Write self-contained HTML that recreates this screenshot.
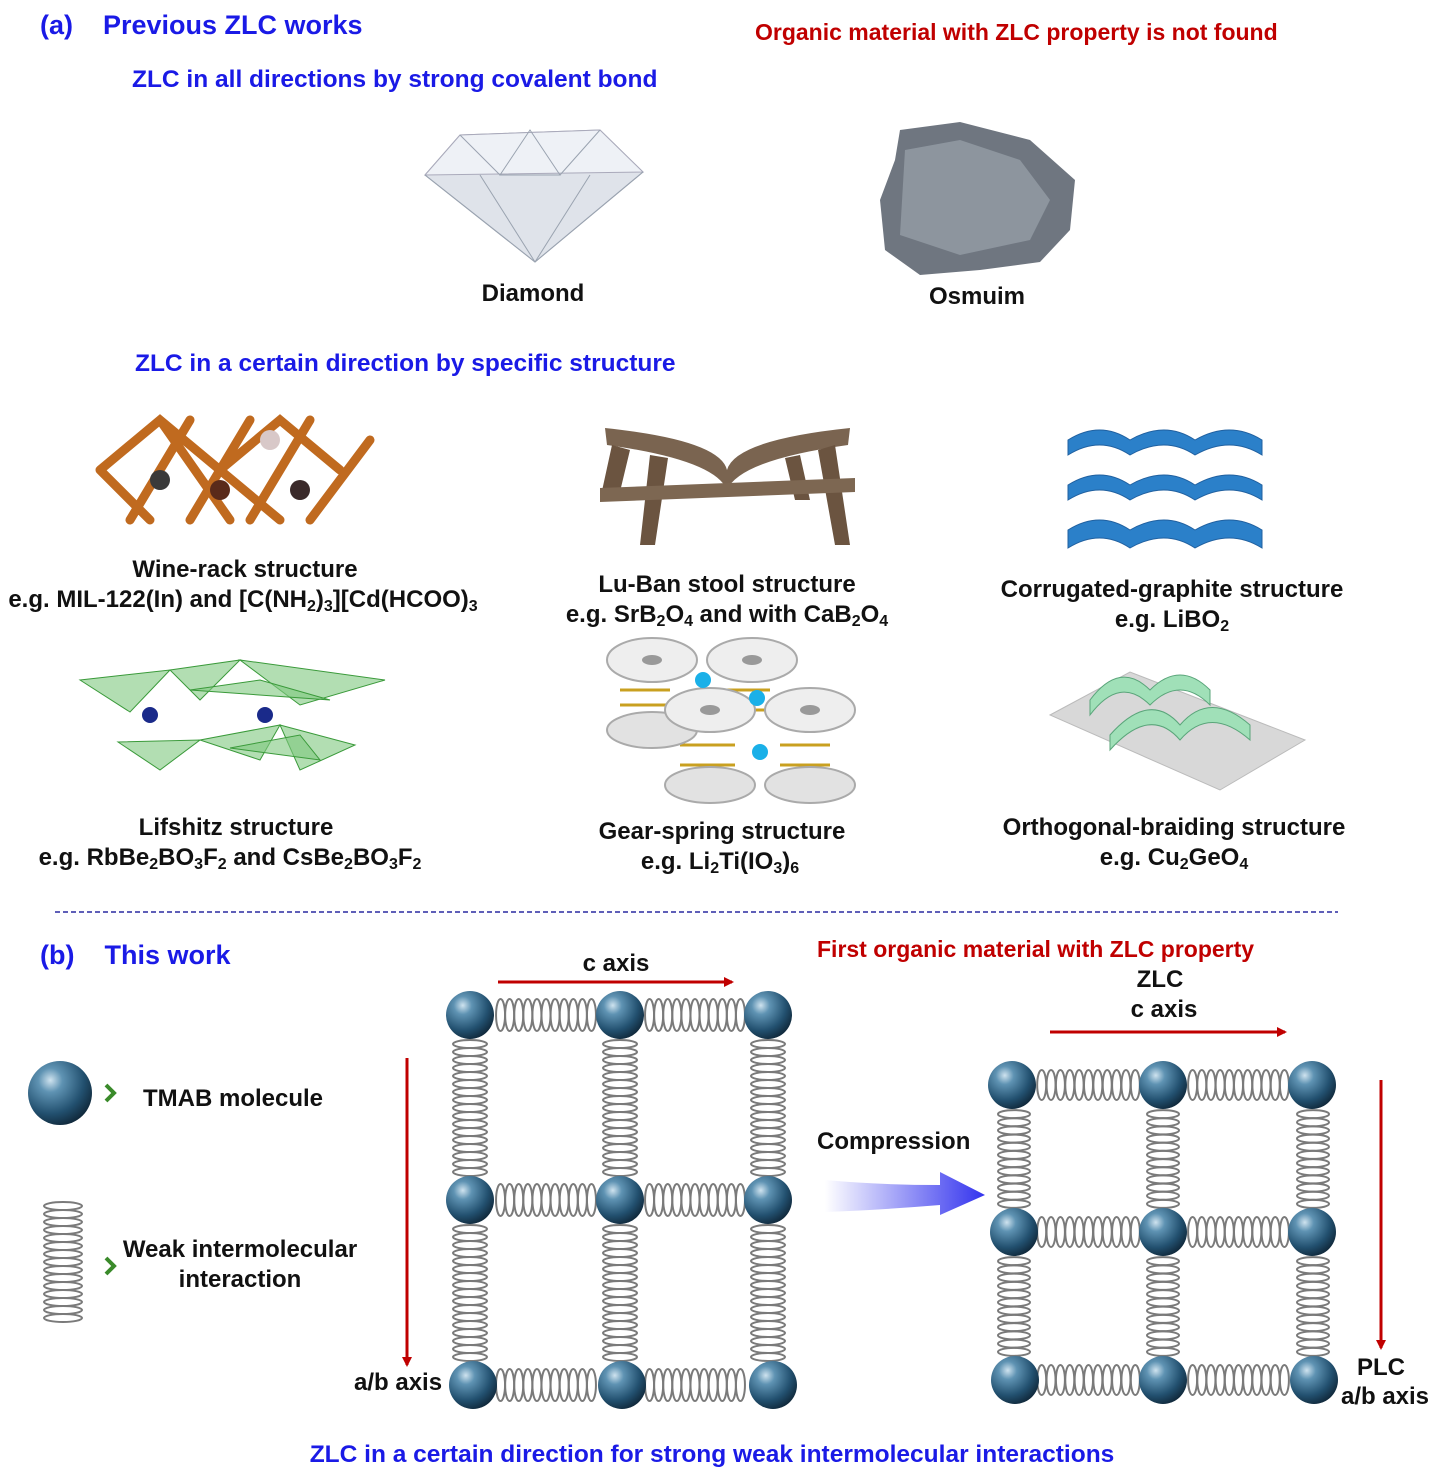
<!DOCTYPE html>
<html><head><meta charset="utf-8"><style>
html,body{margin:0;padding:0;background:#fff;}
#w{position:relative;width:1435px;height:1476px;overflow:hidden;font-family:"Liberation Sans",Arial,sans-serif;font-weight:bold;}
.t{position:absolute;white-space:nowrap;line-height:1;}
.b{color:#1a1ae6;font-size:24.5px;}
.h{color:#1a1ae6;font-size:27px;}
.r{color:#c00000;font-size:23px;}
.k{color:#111;font-size:24px;}
.c{transform:translateX(-50%);text-align:center;}
sub{font-size:16px;vertical-align:-4px;line-height:0;}
svg{position:absolute;left:0;top:0;}
</style></head><body><div id="w">
<svg id="s" width="1435" height="1476" viewBox="0 0 1435 1476">
<defs>
<radialGradient id="sph" cx="0.35" cy="0.3" r="0.75">
<stop offset="0" stop-color="#cfe3ef"/><stop offset="0.25" stop-color="#5f93b3"/><stop offset="0.7" stop-color="#22506f"/><stop offset="1" stop-color="#10283a"/></radialGradient>
<linearGradient id="cmp" x1="0" x2="1"><stop offset="0" stop-color="#fff"/><stop offset="1" stop-color="#3333ee"/></linearGradient>
<marker id="ar" markerWidth="10" markerHeight="10" refX="8" refY="5" orient="auto" markerUnits="userSpaceOnUse"><path d="M0,0 L10,5 L0,10 z" fill="#c00000"/></marker>
</defs>
<!-- diamond -->
<polygon points="425,175 460,135 600,130 643,172 535,262" fill="#dfe3ea" stroke="#9aa3b0"/>
<polygon points="460,135 600,130 643,172 425,175" fill="#eef1f6" stroke="#aab"/>
<path d="M425,175 L535,262 L643,172 M480,175 L535,262 L590,175 M460,135 L500,175 M600,130 L560,175 M530,130 L500,175 L560,175 Z" stroke="#9aa3b0" fill="none"/>
<!-- osmium -->
<path d="M900,130 L960,122 L1030,140 L1075,180 L1070,230 L1040,262 L980,270 L920,275 L885,250 L880,200 L895,160 Z" fill="#6f7680"/>
<path d="M905,150 L960,140 L1020,160 L1050,200 L1030,240 L960,255 L900,235 Z" fill="#9aa2ab" opacity="0.7"/>
<!-- wine rack -->
<g stroke="#c06a1f" stroke-width="9" stroke-linecap="round">
<path d="M100,470 L160,420 L220,470 L280,420 L340,470 M130,520 L190,420 M190,520 L250,420 M250,520 L310,420 M310,520 L370,440 M100,470 L150,520 M160,420 L230,520 M220,470 L280,520" fill="none"/>
</g>
<circle cx="160" cy="480" r="10" fill="#3a3a3a"/><circle cx="220" cy="490" r="10" fill="#5a2a1a"/><circle cx="300" cy="490" r="10" fill="#3a2a2a"/><circle cx="270" cy="440" r="10" fill="#d8c8c8"/>
<!-- stool -->
<path d="M605,428 Q720,440 727,470 Q735,440 850,428 L848,445 Q740,460 727,490 Q715,460 607,445 Z" fill="#7a6450"/>
<path d="M612,445 L600,500 L618,500 L630,450 Z M835,445 L850,545 L835,545 L818,450 Z M650,455 L640,545 L655,545 L668,458 Z M800,455 L810,500 L795,500 L785,458 Z" fill="#6b5440"/>
<path d="M600,488 L855,478 L855,492 L600,502 Z" fill="#7d6752"/>
<!-- corrugated -->
<g fill="#2b80c9" stroke="#2060a0">
<path d="M1068,440 Q1100,420 1130,440 Q1165,420 1195,440 Q1230,420 1262,440 L1262,455 Q1230,435 1195,455 Q1165,435 1130,455 Q1100,435 1068,455 Z"/>
<path d="M1068,485 Q1100,465 1130,485 Q1165,465 1195,485 Q1230,465 1262,485 L1262,500 Q1230,480 1195,500 Q1165,480 1130,500 Q1100,480 1068,500 Z"/>
<path d="M1068,530 Q1100,510 1130,530 Q1165,510 1195,530 Q1230,510 1262,530 L1262,548 Q1230,528 1195,548 Q1165,528 1130,548 Q1100,528 1068,548 Z"/>
</g>
<!-- lifshitz -->
<g fill="#7fc87f" fill-opacity="0.6" stroke="#3a9a3a">
<polygon points="80,680 170,670 130,712"/><polygon points="170,670 240,660 200,700"/><polygon points="240,660 385,680 300,705"/><polygon points="190,690 260,680 330,700"/>
<polygon points="118,742 200,740 160,770"/><polygon points="200,740 280,725 260,760"/><polygon points="280,725 355,745 300,770"/><polygon points="230,748 300,735 320,760"/>
</g>
<circle cx="150" cy="715" r="8" fill="#1a2a8a"/><circle cx="265" cy="715" r="8" fill="#1a2a8a"/>
<!-- gears -->
<g stroke="#aaa" stroke-width="2">
<g fill="none" stroke="#c9a020" stroke-width="3"><path d="M620,690 h50 M620,705 h50 M620,720 h50 M720,690 h50 M720,710 h50 M680,745 h55 M680,765 h55 M780,745 h50 M780,765 h50"/></g>
<ellipse cx="652" cy="660" rx="45" ry="22" fill="#eee"/><ellipse cx="752" cy="660" rx="45" ry="22" fill="#eee"/>
<ellipse cx="652" cy="730" rx="45" ry="18" fill="#e2e2e2"/>
<ellipse cx="710" cy="710" rx="45" ry="22" fill="#eee"/><ellipse cx="810" cy="710" rx="45" ry="22" fill="#eee"/>
<ellipse cx="710" cy="785" rx="45" ry="18" fill="#e2e2e2"/><ellipse cx="810" cy="785" rx="45" ry="18" fill="#e2e2e2"/>
</g>
<ellipse cx="652" cy="660" rx="10" ry="5" fill="#999"/><ellipse cx="752" cy="660" rx="10" ry="5" fill="#999"/><ellipse cx="710" cy="710" rx="10" ry="5" fill="#999"/><ellipse cx="810" cy="710" rx="10" ry="5" fill="#999"/>
<circle cx="703" cy="680" r="8" fill="#1ab0e8"/><circle cx="757" cy="698" r="8" fill="#1ab0e8"/><circle cx="760" cy="752" r="8" fill="#1ab0e8"/>
<!-- orthogonal -->
<polygon points="1050,715 1130,672 1305,740 1220,790" fill="#d8d8d8" stroke="#bbb"/>
<g fill="#a0e0b8" stroke="#5aa57a">
<path d="M1090,700 Q1120,660 1150,690 Q1180,660 1210,690 L1210,705 Q1180,675 1150,705 Q1120,675 1090,715 Z"/>
<path d="M1110,735 Q1150,690 1180,725 Q1210,690 1250,725 L1250,740 Q1210,705 1180,740 Q1150,705 1110,750 Z"/>
</g>
<!-- dashed -->
<line x1="55" y1="912" x2="1338" y2="912" stroke="#2a2aa0" stroke-width="1.5" stroke-dasharray="5,3"/>
<!-- legend -->
<circle cx="60" cy="1093" r="32" fill="url(#sph)"/>
<path d="M106,1085 L114,1093 L106,1101" stroke="#3a8a2a" stroke-width="4" fill="none"/>
<path d="M106,1258 L114,1266 L106,1274" stroke="#3a8a2a" stroke-width="4" fill="none"/>
<g id="springs"></g>
<g fill="url(#sph)">
<circle cx="470" cy="1015" r="24"/><circle cx="620" cy="1015" r="24"/><circle cx="768" cy="1015" r="24"/>
<circle cx="470" cy="1200" r="24"/><circle cx="620" cy="1200" r="24"/><circle cx="768" cy="1200" r="24"/>
<circle cx="473" cy="1385" r="24"/><circle cx="622" cy="1385" r="24"/><circle cx="773" cy="1385" r="24"/>
<circle cx="1012" cy="1085" r="24"/><circle cx="1163" cy="1085" r="24"/><circle cx="1312" cy="1085" r="24"/>
<circle cx="1014" cy="1232" r="24"/><circle cx="1163" cy="1232" r="24"/><circle cx="1312" cy="1232" r="24"/>
<circle cx="1015" cy="1380" r="24"/><circle cx="1163" cy="1380" r="24"/><circle cx="1314" cy="1380" r="24"/>
</g>
<line x1="498" y1="982" x2="732" y2="982" stroke="#c00000" stroke-width="3" marker-end="url(#ar)"/>
<line x1="407" y1="1058" x2="407" y2="1365" stroke="#c00000" stroke-width="3" marker-end="url(#ar)"/>
<path d="M825,1180 Q880,1185 940,1185 L940,1172 L985,1195 L940,1215 L940,1205 Q880,1210 825,1212 Z" fill="url(#cmp)"/>
<line x1="1050" y1="1032" x2="1285" y2="1032" stroke="#c00000" stroke-width="3" marker-end="url(#ar)"/>
<line x1="1381" y1="1080" x2="1381" y2="1348" stroke="#c00000" stroke-width="3" marker-end="url(#ar)"/>
</svg>
<script>
(function(){
var g=document.getElementById('springs'),ns='http://www.w3.org/2000/svg';
function e(cx,cy,rx,ry){var el=document.createElementNS(ns,'ellipse');el.setAttribute('cx',cx);el.setAttribute('cy',cy);el.setAttribute('rx',rx);el.setAttribute('ry',ry);el.setAttribute('fill','none');el.setAttribute('stroke','#7a7a7a');el.setAttribute('stroke-width','2');g.appendChild(el);}
function H(x1,x2,cy,ry){var n=Math.round((x2-x1)/9);var st=(x2-x1)/n;for(var i=0;i<n;i++)e(x1+st*(i+0.5),cy,4.5,ry);}
function V(y1,y2,cx,rx){var n=Math.round((y2-y1)/8);var st=(y2-y1)/n;for(var i=0;i<n;i++)e(cx,y1+st*(i+0.5),rx,4);}
V(1202,1322,63,19);
[1015,1200,1385].forEach(function(y){H(496,596,y,16);H(645,745,y,16);});
[470,620,768].forEach(function(x){V(1040,1176,x,17);V(1225,1361,x,17);});
[1085,1232,1380].forEach(function(y){H(1037,1140,y,15);H(1188,1289,y,15);});
[1014,1163,1313].forEach(function(x){V(1110,1208,x,16);V(1257,1356,x,16);});
})();
</script>

<div class="t h" style="left:40px;top:12px">(a)&nbsp;&nbsp;&nbsp;&nbsp;Previous ZLC works</div>
<div class="t r" style="left:755px;top:21px">Organic material with ZLC property is not found</div>
<div class="t b" style="left:132px;top:68px">ZLC in all directions by strong covalent bond</div>
<div class="t k c" style="left:533px;top:282px">Diamond</div>
<div class="t k c" style="left:977px;top:285px">Osmuim</div>
<div class="t b" style="left:135px;top:352px">ZLC in a certain direction by specific structure</div>
<div class="t k c" style="left:245px;top:558px">Wine-rack structure</div>
<div class="t k c" style="left:243px;top:588px">e.g. MIL-122(In) and [C(NH<sub>2</sub>)<sub>3</sub>][Cd(HCOO)<sub>3</sub></div>
<div class="t k c" style="left:727px;top:573px">Lu-Ban stool structure</div>
<div class="t k c" style="left:727px;top:603px">e.g. SrB<sub>2</sub>O<sub>4</sub> and with CaB<sub>2</sub>O<sub>4</sub></div>
<div class="t k c" style="left:1172px;top:578px">Corrugated-graphite structure</div>
<div class="t k c" style="left:1172px;top:608px">e.g. LiBO<sub>2</sub></div>
<div class="t k c" style="left:236px;top:816px">Lifshitz structure</div>
<div class="t k c" style="left:230px;top:846px">e.g. RbBe<sub>2</sub>BO<sub>3</sub>F<sub>2</sub> and CsBe<sub>2</sub>BO<sub>3</sub>F<sub>2</sub></div>
<div class="t k c" style="left:722px;top:820px">Gear-spring structure</div>
<div class="t k c" style="left:720px;top:850px">e.g. Li<sub>2</sub>Ti(IO<sub>3</sub>)<sub>6</sub></div>
<div class="t k c" style="left:1174px;top:816px">Orthogonal-braiding structure</div>
<div class="t k c" style="left:1174px;top:846px">e.g. Cu<sub>2</sub>GeO<sub>4</sub></div>

<div class="t h" style="left:40px;top:942px">(b)&nbsp;&nbsp;&nbsp;&nbsp;This work</div>
<div class="t r" style="left:817px;top:938px">First organic material with ZLC property</div>
<div class="t k c" style="left:1160px;top:968px">ZLC</div>
<div class="t k c" style="left:1164px;top:998px">c axis</div>
<div class="t k c" style="left:616px;top:952px">c axis</div>
<div class="t k" style="left:143px;top:1087px">TMAB molecule</div>
<div class="t k c" style="left:240px;top:1238px">Weak intermolecular</div>
<div class="t k c" style="left:240px;top:1268px">interaction</div>
<div class="t k" style="left:817px;top:1130px">Compression</div>
<div class="t k" style="left:354px;top:1371px">a/b axis</div>
<div class="t k c" style="left:1381px;top:1356px">PLC</div>
<div class="t k c" style="left:1385px;top:1385px">a/b axis</div>
<div class="t b c" style="left:712px;top:1443px">ZLC in a certain direction for strong weak intermolecular interactions</div>
</div></body></html>
